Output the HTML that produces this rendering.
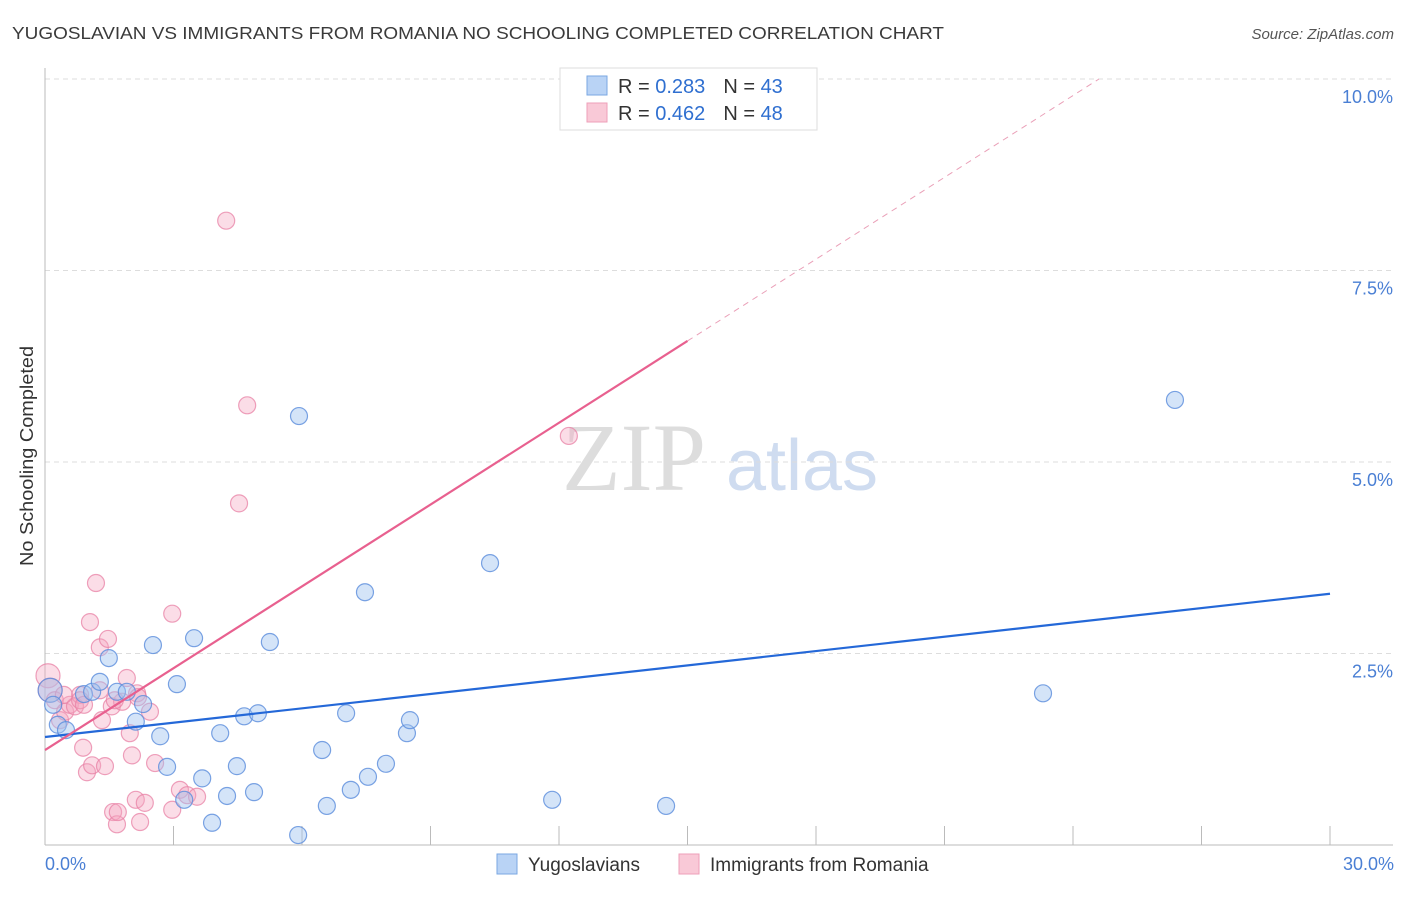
<!DOCTYPE html>
<html><head><meta charset="utf-8"><style>
body{margin:0;background:#fff;font-family:"Liberation Sans",sans-serif;}
svg text{font-family:"Liberation Sans",sans-serif;}
</style></head><body>
<svg id="chart" width="1406" height="892" viewBox="0 0 1406 892" xmlns="http://www.w3.org/2000/svg">
<text x="12" y="39" font-size="17.5" fill="#3a3a3a" textLength="932" lengthAdjust="spacingAndGlyphs">YUGOSLAVIAN VS IMMIGRANTS FROM ROMANIA NO SCHOOLING COMPLETED CORRELATION CHART</text>
<text x="1394" y="39" font-size="15" fill="#555" text-anchor="end" font-style="italic">Source: ZipAtlas.com</text>
<text transform="translate(33,456) rotate(-90)" font-size="18" fill="#333" text-anchor="middle" textLength="220" lengthAdjust="spacingAndGlyphs">No Schooling Completed</text>
<g>
<text x="634" y="490" font-size="96" fill="#ddd" text-anchor="middle" style="font-family:'Liberation Serif',serif">ZIP</text>
<text x="802" y="490" font-size="72" fill="#cfdcf0" text-anchor="middle">atlas</text>
</g>
<g id="grid"></g>
<g id="axes"></g>
<g id="marks"></g>
<g>
<rect x="560" y="68" width="257" height="62" fill="#fff" stroke="#ddd"/>
<rect x="587" y="76" width="20" height="19" fill="#b9d3f5" stroke="#7aa7e2"/>
<text x="618" y="93" font-size="20" fill="#333">R = <tspan fill="#2f6fd0">0.283</tspan><tspan dx="18">N = </tspan><tspan fill="#2f6fd0">43</tspan></text>
<rect x="587" y="103" width="20" height="19" fill="#f9c9d7" stroke="#ee9fb8"/>
<text x="618" y="120" font-size="20" fill="#333">R = <tspan fill="#2f6fd0">0.462</tspan><tspan dx="18">N = </tspan><tspan fill="#2f6fd0">48</tspan></text>
</g>
<g>
<rect x="497" y="854" width="20" height="20" fill="#b9d3f5" stroke="#7aa7e2"/>
<text x="528" y="871" font-size="19" fill="#333">Yugoslavians</text>
<rect x="679" y="854" width="20" height="20" fill="#f9c9d7" stroke="#ee9fb8"/>
<text x="710" y="871" font-size="19" fill="#333">Immigrants from Romania</text>
</g>
</svg>
<script>
const yTicks=[2.5,5,7.5,10];
const yTickLabels=["2.5%","5.0%","7.5%","10.0%"];
const xTickVals=[0,3,6,9,12,15,18,21,24,27,30];
const blueX=[0.12,0.19,0.30,0.49,0.91,1.10,1.28,1.49,1.68,1.91,2.12,2.29,2.52,2.69,2.85,3.08,3.25,3.48,3.67,3.90,4.09,4.25,4.48,4.65,4.88,4.97,5.25,5.93,5.91,6.47,6.58,7.03,7.14,7.47,7.54,7.96,8.45,8.52,10.39,11.84,14.50,23.30,26.38];
const blueY=[2.02,1.83,1.57,1.50,1.97,2.00,2.13,2.44,2.00,2.00,1.61,1.84,2.61,1.42,1.02,2.10,0.59,2.70,0.87,0.29,1.46,0.64,1.03,1.68,0.69,1.72,2.65,5.60,0.13,1.24,0.51,1.72,0.72,3.30,0.89,1.06,1.46,1.63,3.68,0.59,0.51,1.98,5.81];
const pinkX=[0.07,0.12,0.23,0.35,0.47,0.58,0.70,0.82,0.89,0.98,1.05,1.10,1.19,1.28,1.40,1.47,1.33,1.59,1.68,1.70,1.56,1.80,1.91,1.98,2.03,2.15,2.12,2.22,2.33,2.45,2.57,2.97,2.97,3.15,3.32,3.55,4.23,4.53,4.72,12.23,0.82,0.44,1.63,1.28,2.17,0.91];
const pinkY=[2.21,2.02,1.89,1.63,1.74,1.83,1.81,1.96,1.27,0.95,2.91,1.04,3.42,2.58,1.03,2.69,1.63,0.43,0.27,0.43,1.81,1.87,2.18,1.46,1.17,1.98,0.59,0.30,0.55,1.74,1.07,3.02,0.46,0.72,0.65,0.63,8.15,4.46,5.74,5.34,1.89,1.96,1.89,2.02,1.93,1.83];
const blueTrend=[1.41,3.28];
const pinkTrend=[1.24,0.356];
const X0=45,X1=1330,Y0=845,YPER=76.6;
const sx=v=>X0+v/30*(X1-X0);
const sy=v=>Y0-v*YPER;
const NS="http://www.w3.org/2000/svg";
function mk(tag,attrs,parent){const e=document.createElementNS(NS,tag);for(const k in attrs)e.setAttribute(k,attrs[k]);parent.appendChild(e);return e;}
const grid=document.getElementById('grid'),axes=document.getElementById('axes'),marks=document.getElementById('marks');
yTicks.forEach((t,i)=>{
 const l=mk('line',{x1:X0,x2:1393,y1:sy(t),y2:sy(t),stroke:'#ddd','stroke-dasharray':'5,4'},grid);
 
 
 const tx=mk('text',{x:1393,y:sy(t)+24,'font-size':18,fill:'#4a7fd4','text-anchor':'end'},axes);
 tx.textContent=yTickLabels[i];
 
 
});
const al=mk('line',{x1:X0,x2:X0,y1:68,y2:Y0,stroke:'#bbb'},axes);


const bl=mk('line',{x1:X0,x2:1393,y1:Y0,y2:Y0,stroke:'#bbb'},axes);


xTickVals.forEach(v=>{
 const t=mk('line',{x1:sx(v),x2:sx(v),y1:826,y2:Y0,stroke:'#bbb'},axes);
 
 
});
const xl0=mk('text',{x:45,y:870,'font-size':18,fill:'#4a7fd4'},axes);xl0.textContent='0.0%';


const xl1=mk('text',{x:1394,y:870,'font-size':18,fill:'#4a7fd4','text-anchor':'end'},axes);xl1.textContent='30.0%';


pinkX.forEach((x,i)=>{
 const c=mk('circle',{cx:sx(x),cy:sy(pinkY[i]),r:i<2?12:8.5,fill:'rgba(245,165,192,0.38)',stroke:'rgba(232,130,165,0.75)','stroke-width':1.2},marks);
 
 
});
blueX.forEach((x,i)=>{
 const c=mk('circle',{cx:sx(x),cy:sy(blueY[i]),r:i<1?12:8.5,fill:'rgba(160,195,240,0.45)',stroke:'rgba(90,140,220,0.8)','stroke-width':1.2},marks);
 
 
});
const bt=mk('line',{x1:sx(0),y1:sy(blueTrend[0]),x2:sx(30),y2:sy(blueTrend[1]),stroke:'#2468d8','stroke-width':2.2},marks);


const xEnd=15,xMax=(10-pinkTrend[0])/pinkTrend[1];
const pt=mk('line',{x1:sx(0),y1:sy(pinkTrend[0]),x2:sx(xEnd),y2:sy(pinkTrend[0]+pinkTrend[1]*xEnd),stroke:'#e8608f','stroke-width':2.2},marks);


const pd=mk('line',{x1:sx(xEnd),y1:sy(pinkTrend[0]+pinkTrend[1]*xEnd),x2:sx(xMax),y2:sy(10),stroke:'#eaa0b8','stroke-width':1,'stroke-dasharray':'6,5'},marks);


</script>
</body></html>
